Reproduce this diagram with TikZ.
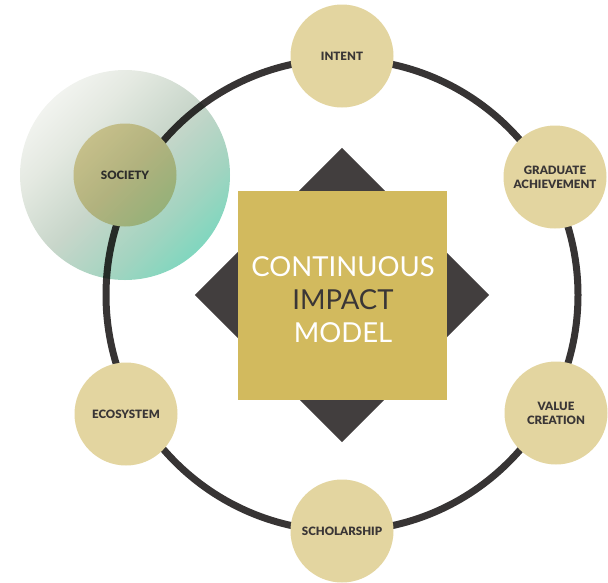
\documentclass[tikz,border=0pt]{standalone}
\usepackage{fontspec}
\setmainfont{Lato}
\newfontfamily\stagefont{Lato}[UprightFont=* Black]

\definecolor{ringgray}{RGB}{55,52,52}
\definecolor{diamondgray}{RGB}{66,62,62}
\definecolor{coregold}{RGB}{210,186,94}
\definecolor{stagetan}{RGB}{227,213,160}
\definecolor{labelgray}{RGB}{58,54,54}
\definecolor{mistfade}{RGB}{248,248,246}
\definecolor{palefade}{RGB}{228,233,225}
\definecolor{sagefade}{RGB}{200,214,202}
\definecolor{mintfade}{RGB}{162,212,192}
\definecolor{tealfade}{RGB}{112,216,190}
\pgfdeclareverticalshading{halofade}{100bp}{color(0bp)=(tealfade); color(20bp)=(tealfade);
  color(35bp)=(mintfade); color(50bp)=(sagefade); color(65bp)=(palefade);
  color(80bp)=(mistfade); color(100bp)=(mistfade)}

\begin{document}
\begin{tikzpicture}[x=1pt,y=1pt,
  stage/.style={circle,fill=stagetan,minimum size=103pt,inner sep=0pt,align=center,
    font=\stagefont\fontsize{11.5}{14}\selectfont,text=labelgray}]
  \useasboundingbox (0,0) rectangle (608,-582);
  \coordinate (hub) at (342,-295);
  \draw[line width=7pt,ringgray] (hub) circle [radius=236];

  \node[rotate=45,fill=diamondgray,minimum size=208pt,inner sep=0pt] (diamond) at (hub) {};
  \node[fill=coregold,minimum size=209pt,inner sep=0pt] (core) at (hub) {};
  \node[align=center,font=\fontsize{27.5}{33}\selectfont,text=white] (title) at (343,-300)
    {CONTINUOUS\\{\color{labelgray}IMPACT}\\MODEL};

  \node[stage] (intent) at (342,-56) {INTENT};
  \node[stage] (graduate) at (555,-177) {GRADUATE\\ACHIEVEMENT};
  \node[stage] (value) at (556,-413) {VALUE\\CREATION};
  \node[stage] (scholarship) at (342,-531) {SCHOLARSHIP};
  \node[stage] (ecosystem) at (126,-414) {ECOSYSTEM};
  \node[stage] (society) at (125,-175) {SOCIETY};

  % halo over society
  \begin{scope}[blend mode=multiply]
    \shade[shading=halofade,shading angle=45] (society.center) circle [radius=105];
  \end{scope}
\end{tikzpicture}
\end{document}
